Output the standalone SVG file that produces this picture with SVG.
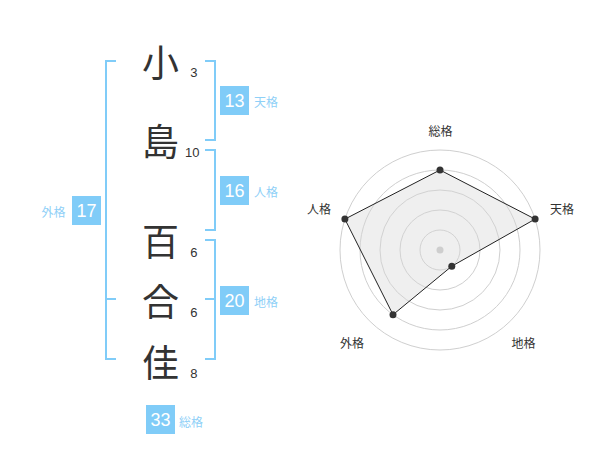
<svg xmlns="http://www.w3.org/2000/svg" width="600" height="470" viewBox="0 0 600 470">
<style>
.kanji{font-family:"Noto Sans CJK JP","Noto Sans CJK SC",sans-serif;font-size:37px;fill:#333;text-anchor:middle;dominant-baseline:central}
.stroke{font-family:"Liberation Sans",Arial,sans-serif;font-size:13px;fill:#333;text-anchor:end}
.br{fill:none;stroke:#80ccf8;stroke-width:2}
.box{fill:#80ccf8}
.num{font-family:"Liberation Sans",Arial,sans-serif;font-size:18px;fill:#fff;text-anchor:middle}
.lab{font-family:"Noto Sans CJK JP","Noto Sans CJK SC",sans-serif;font-size:12px;fill:#8fd0f7;dominant-baseline:central}
.ring{fill:none;stroke:#cfcfcf;stroke-width:1}
.axl{font-family:"Noto Sans CJK JP","Noto Sans CJK SC",sans-serif;font-size:12px;fill:#333;text-anchor:middle;dominant-baseline:central}
.dot{fill:#333}
</style>
<rect width="600" height="470" fill="#fff"/>
<g id="chars">
<text class="kanji" x="160.5" y="60.5">小</text>
<text class="kanji" x="160.5" y="139.5">島</text>
<text class="kanji" x="160.5" y="240">百</text>
<text class="kanji" x="160.5" y="300">合</text>
<text class="kanji" x="160.5" y="360.5">佳</text>
<text class="stroke" x="197.5" y="77">3</text>
<text class="stroke" x="199.5" y="157">10</text>
<text class="stroke" x="197.5" y="257">6</text>
<text class="stroke" x="197.5" y="317">6</text>
<text class="stroke" x="197.5" y="378">8</text>
</g>
<g id="brackets">
<path class="br" d="M116,61 H106 V359 H116 M106,299 H116"/>
<path class="br" d="M205,61 H215 V140 H205"/>
<path class="br" d="M205,150 H215 V230 H205"/>
<path class="br" d="M205,240 H215 V359 H205 M215,299 H205"/>
</g>
<g id="tenkaku">
<rect class="box" x="220" y="86" width="29" height="29"/>
<text class="num" x="234.5" y="107">13</text>
<text class="lab" x="254" y="101">天格</text>
</g>
<g id="jinkaku">
<rect class="box" x="220" y="176" width="29" height="29"/>
<text class="num" x="234.5" y="197">16</text>
<text class="lab" x="254" y="191">人格</text>
</g>
<g id="chikaku">
<rect class="box" x="220" y="286" width="29" height="29"/>
<text class="num" x="234.5" y="307">20</text>
<text class="lab" x="254" y="301">地格</text>
</g>
<g id="gaikaku">
<rect class="box" x="72" y="196" width="29" height="29"/>
<text class="num" x="86.5" y="217">17</text>
<text class="lab" x="65.5" y="211" text-anchor="end">外格</text>
</g>
<g id="soukaku">
<rect class="box" x="146" y="405" width="29" height="29"/>
<text class="num" x="160.5" y="426">33</text>
<text class="lab" x="179" y="421">総格</text>
</g>
<g id="radar">
<circle class="ring" cx="440" cy="250" r="20"/>
<circle class="ring" cx="440" cy="250" r="40"/>
<circle class="ring" cx="440" cy="250" r="60"/>
<circle class="ring" cx="440" cy="250" r="80"/>
<circle class="ring" cx="440" cy="250" r="100"/>
<circle cx="440" cy="250" r="3.5" fill="#c8c8c8"/>
<polygon points="440,170 535.1,219.1 451.8,266.2 393,314.7 344.9,219.1" fill="#d8d8d8" fill-opacity="0.4" stroke="#222" stroke-width="1"/>
<circle class="dot" cx="440" cy="170" r="3.5"/>
<circle class="dot" cx="535.1" cy="219.1" r="3.5"/>
<circle class="dot" cx="451.8" cy="266.2" r="3.5"/>
<circle class="dot" cx="393" cy="314.7" r="3.5"/>
<circle class="dot" cx="344.9" cy="219.1" r="3.5"/>
<text class="axl" x="440.5" y="130">総格</text>
<text class="axl" x="562" y="208.5">天格</text>
<text class="axl" x="319" y="208.5">人格</text>
<text class="axl" x="352" y="342.5">外格</text>
<text class="axl" x="523.5" y="342.5">地格</text>
</g>
</svg>
